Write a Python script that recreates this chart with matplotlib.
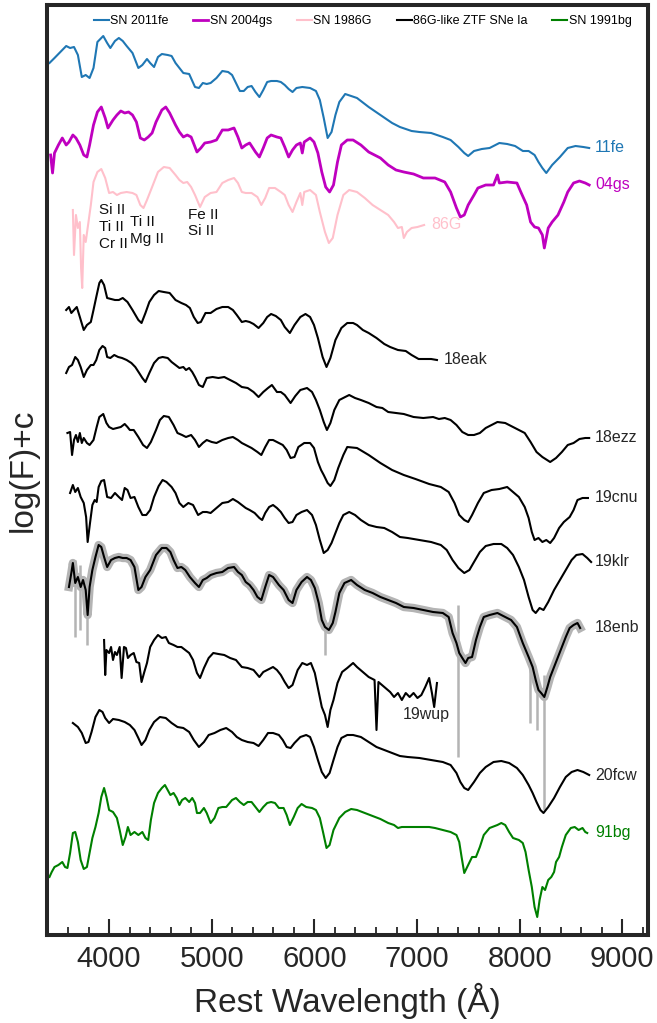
import numpy as np
import matplotlib.pyplot as plt
from matplotlib.ticker import MultipleLocator

plt.rcParams['font.family'] = ['Liberation Sans', 'DejaVu Sans']

# (rest wavelength [A], log flux + offset)
sn2011fe = [(3419, 8.87), (3468, 8.92), (3525, 8.98), (3582, 9.04), (3620, 9.02), (3658, 9.03), (3696, 8.95),
            (3734, 8.73), (3772, 8.75), (3810, 8.72), (3848, 8.82), (3886, 9.08), (3943, 9.14), (3981, 9.07),
            (4012, 9.02), (4057, 9.09), (4095, 9.12), (4133, 9.09), (4171, 9.04), (4228, 8.97), (4285, 8.82),
            (4324, 8.85), (4369, 8.91), (4400, 8.87), (4438, 8.83), (4476, 8.93), (4514, 8.96), (4571, 8.95),
            (4609, 8.94), (4647, 8.87), (4685, 8.82), (4723, 8.77), (4780, 8.76), (4837, 8.63), (4875, 8.62),
            (4913, 8.67), (4951, 8.66), (4989, 8.67), (5046, 8.72), (5103, 8.79), (5160, 8.78), (5198, 8.75),
            (5236, 8.67), (5274, 8.59), (5312, 8.59), (5350, 8.63), (5388, 8.64), (5426, 8.58), (5464, 8.53),
            (5502, 8.60), (5540, 8.68), (5578, 8.69), (5635, 8.69), (5673, 8.68), (5711, 8.65), (5749, 8.61),
            (5787, 8.58), (5825, 8.62), (5882, 8.63), (5958, 8.62), (6015, 8.59), (6053, 8.50), (6091, 8.32),
            (6129, 8.12), (6167, 8.18), (6205, 8.35), (6243, 8.48), (6300, 8.56), (6358, 8.54), (6415, 8.52),
            (6529, 8.43), (6643, 8.35), (6757, 8.27), (6833, 8.23), (6947, 8.19), (7023, 8.18), (7137, 8.17),
            (7251, 8.13), (7327, 8.10), (7403, 8.03), (7460, 7.97), (7498, 7.94), (7555, 7.99), (7631, 8.01),
            (7707, 8.02), (7802, 8.07), (7878, 8.06), (7955, 8.04), (8031, 7.99), (8087, 7.99), (8145, 7.95),
            (8183, 7.88), (8221, 7.82), (8259, 7.77), (8316, 7.85), (8392, 7.93), (8468, 8.02), (8544, 8.04),
            (8620, 8.03), (8677, 8.02)]

sn2004gs = [(3430, 7.95), (3449, 7.77), (3468, 7.97), (3506, 8.05), (3544, 8.12), (3582, 8.05), (3609, 8.08),
            (3647, 8.15), (3677, 8.12), (3715, 8.05), (3753, 7.95), (3784, 7.93), (3810, 8.05), (3848, 8.25),
            (3886, 8.38), (3924, 8.43), (3962, 8.32), (3989, 8.22), (4038, 8.30), (4076, 8.35), (4114, 8.39),
            (4152, 8.37), (4190, 8.38), (4228, 8.35), (4266, 8.28), (4304, 8.12), (4343, 8.10), (4381, 8.13),
            (4419, 8.17), (4457, 8.28), (4514, 8.40), (4552, 8.43), (4590, 8.37), (4647, 8.25), (4685, 8.18),
            (4723, 8.13), (4761, 8.15), (4799, 8.13), (4856, 7.98), (4894, 8.02), (4932, 8.07), (4989, 8.08),
            (5046, 8.10), (5103, 8.20), (5160, 8.20), (5217, 8.22), (5255, 8.13), (5293, 8.02), (5331, 8.05),
            (5369, 8.07), (5426, 7.98), (5464, 7.93), (5502, 8.02), (5540, 8.12), (5578, 8.15), (5635, 8.13),
            (5673, 8.12), (5711, 8.03), (5749, 7.93), (5787, 8.00), (5825, 8.05), (5863, 8.07), (5882, 7.97),
            (5901, 8.08), (5958, 8.12), (5996, 8.08), (6034, 7.97), (6072, 7.78), (6110, 7.63), (6148, 7.58),
            (6186, 7.65), (6225, 7.88), (6263, 8.05), (6320, 8.10), (6377, 8.10), (6453, 8.05), (6529, 7.98),
            (6643, 7.92), (6719, 7.85), (6795, 7.80), (6871, 7.78), (6966, 7.76), (7061, 7.72), (7175, 7.72),
            (7270, 7.68), (7327, 7.58), (7384, 7.42), (7422, 7.33), (7460, 7.35), (7498, 7.45), (7555, 7.55),
            (7593, 7.62), (7669, 7.65), (7745, 7.65), (7783, 7.75), (7802, 7.67), (7878, 7.68), (7973, 7.67),
            (8011, 7.58), (8068, 7.45), (8106, 7.28), (8145, 7.23), (8183, 7.22), (8221, 7.15), (8240, 7.02),
            (8278, 7.22), (8316, 7.28), (8373, 7.35), (8430, 7.48), (8468, 7.58), (8525, 7.67), (8582, 7.69),
            (8639, 7.67), (8677, 7.65)]

sn1986g = [(3647, 7.40), (3658, 6.95), (3677, 7.35), (3696, 7.22), (3715, 7.28), (3727, 6.82), (3738, 6.62),
           (3753, 7.15), (3772, 7.08), (3791, 7.22), (3822, 7.45), (3848, 7.68), (3886, 7.78), (3924, 7.81),
           (3962, 7.72), (4000, 7.57), (4038, 7.58), (4076, 7.55), (4114, 7.57), (4171, 7.58), (4228, 7.57),
           (4266, 7.55), (4304, 7.45), (4335, 7.42), (4369, 7.50), (4419, 7.63), (4476, 7.78), (4533, 7.83),
           (4590, 7.82), (4647, 7.75), (4685, 7.70), (4723, 7.67), (4761, 7.68), (4799, 7.63), (4837, 7.55),
           (4886, 7.43), (4932, 7.53), (4989, 7.57), (5046, 7.58), (5103, 7.67), (5160, 7.70), (5217, 7.72),
           (5255, 7.67), (5293, 7.58), (5331, 7.57), (5388, 7.57), (5445, 7.53), (5483, 7.45), (5521, 7.52),
           (5559, 7.62), (5616, 7.62), (5673, 7.58), (5711, 7.55), (5749, 7.45), (5787, 7.38), (5825, 7.48),
           (5863, 7.57), (5882, 7.45), (5901, 7.58), (5958, 7.60), (6015, 7.55), (6053, 7.38), (6103, 7.18),
           (6141, 7.07), (6179, 7.12), (6225, 7.35), (6282, 7.55), (6339, 7.60), (6415, 7.58), (6491, 7.52),
           (6567, 7.45), (6643, 7.40), (6719, 7.35), (6776, 7.28), (6814, 7.22), (6852, 7.23), (6871, 7.12),
           (6901, 7.18), (6947, 7.22), (7004, 7.23), (7069, 7.25)]

ztf18eak = [(3582, 6.40), (3609, 6.43), (3632, 6.37), (3658, 6.40), (3685, 6.43), (3715, 6.33), (3753, 6.20),
            (3784, 6.25), (3822, 6.28), (3848, 6.40), (3875, 6.53), (3905, 6.67), (3924, 6.70), (3951, 6.65),
            (3981, 6.52), (4019, 6.51), (4057, 6.50), (4095, 6.50), (4133, 6.52), (4179, 6.48), (4228, 6.40),
            (4285, 6.30), (4316, 6.27), (4354, 6.37), (4392, 6.48), (4438, 6.55), (4483, 6.59), (4533, 6.58),
            (4590, 6.57), (4647, 6.50), (4704, 6.47), (4749, 6.45), (4787, 6.42), (4825, 6.33), (4863, 6.27),
            (4894, 6.28), (4939, 6.37), (4989, 6.37), (5046, 6.41), (5103, 6.43), (5160, 6.43), (5206, 6.40),
            (5244, 6.35), (5293, 6.28), (5331, 6.29), (5369, 6.28), (5407, 6.26), (5456, 6.22), (5502, 6.27),
            (5540, 6.33), (5578, 6.36), (5624, 6.34), (5673, 6.30), (5711, 6.23), (5761, 6.17), (5806, 6.25),
            (5863, 6.33), (5913, 6.36), (5958, 6.33), (5996, 6.25), (6034, 6.12), (6080, 5.93), (6118, 5.83),
            (6156, 5.92), (6205, 6.10), (6263, 6.22), (6320, 6.27), (6377, 6.27), (6415, 6.25), (6472, 6.20),
            (6529, 6.17), (6605, 6.12), (6681, 6.06), (6738, 6.03), (6814, 6.00), (6890, 5.99), (6947, 5.95),
            (7015, 5.91), (7080, 5.91), (7137, 5.91), (7194, 5.90)]

ztf18ezz = [(3582, 5.77), (3609, 5.83), (3639, 5.85), (3670, 5.93), (3696, 5.90), (3723, 5.83), (3753, 5.73),
            (3784, 5.80), (3822, 5.85), (3848, 5.85), (3875, 5.90), (3905, 6.00), (3936, 6.04), (3962, 6.02),
            (3981, 5.93), (4012, 5.92), (4050, 5.95), (4088, 5.93), (4126, 5.92), (4171, 5.90), (4217, 5.87),
            (4255, 5.83), (4293, 5.77), (4324, 5.72), (4354, 5.68), (4392, 5.77), (4438, 5.87), (4483, 5.92),
            (4521, 5.93), (4571, 5.92), (4609, 5.88), (4647, 5.85), (4685, 5.82), (4723, 5.83), (4749, 5.80),
            (4780, 5.82), (4810, 5.78), (4837, 5.73), (4875, 5.65), (4913, 5.63), (4951, 5.72), (5008, 5.73),
            (5065, 5.72), (5122, 5.73), (5179, 5.70), (5236, 5.67), (5293, 5.63), (5350, 5.62), (5407, 5.58),
            (5456, 5.53), (5502, 5.58), (5548, 5.62), (5586, 5.65), (5635, 5.58), (5673, 5.58), (5711, 5.55),
            (5768, 5.47), (5814, 5.54), (5863, 5.60), (5928, 5.62), (5977, 5.58), (6015, 5.50), (6053, 5.40),
            (6091, 5.28), (6122, 5.20), (6156, 5.27), (6194, 5.40), (6243, 5.50), (6300, 5.53), (6339, 5.55),
            (6396, 5.52), (6453, 5.50), (6529, 5.47), (6605, 5.43), (6662, 5.42), (6719, 5.38), (6795, 5.37),
            (6871, 5.36), (6966, 5.33), (7061, 5.32), (7156, 5.33), (7213, 5.31), (7270, 5.32), (7327, 5.30),
            (7384, 5.25), (7441, 5.18), (7498, 5.15), (7555, 5.15), (7612, 5.17), (7669, 5.22), (7726, 5.25),
            (7783, 5.28), (7859, 5.27), (7935, 5.23), (7992, 5.20), (8049, 5.17), (8106, 5.08), (8164, 4.98),
            (8221, 4.93), (8297, 4.88), (8354, 4.92), (8411, 4.98), (8468, 5.05), (8525, 5.07), (8582, 5.11),
            (8639, 5.12), (8677, 5.12)]

ztf19cnu = [(3594, 5.17), (3620, 5.18), (3639, 4.95), (3658, 5.10), (3677, 5.15), (3696, 5.08), (3715, 5.17),
            (3734, 5.07), (3753, 5.12), (3784, 5.07), (3810, 5.05), (3848, 5.10), (3879, 5.23), (3905, 5.33),
            (3943, 5.36), (3974, 5.27), (4000, 5.23), (4038, 5.21), (4076, 5.22), (4114, 5.23), (4152, 5.26),
            (4179, 5.23), (4202, 5.20), (4240, 5.20), (4285, 5.13), (4331, 5.05), (4369, 5.02), (4407, 5.08),
            (4457, 5.20), (4495, 5.30), (4533, 5.34), (4582, 5.33), (4628, 5.25), (4666, 5.17), (4711, 5.15),
            (4749, 5.13), (4799, 5.15), (4837, 5.10), (4875, 5.03), (4913, 5.07), (4951, 5.10), (5000, 5.08),
            (5046, 5.07), (5103, 5.10), (5160, 5.12), (5206, 5.13), (5255, 5.10), (5293, 5.07), (5331, 5.05),
            (5388, 5.02), (5445, 4.98), (5483, 4.95), (5521, 5.03), (5559, 5.10), (5597, 5.10), (5654, 5.07),
            (5692, 5.05), (5730, 5.00), (5768, 4.92), (5806, 4.93), (5844, 5.03), (5901, 5.07), (5958, 5.07),
            (5996, 5.02), (6034, 4.88), (6065, 4.80), (6091, 4.75), (6129, 4.67), (6156, 4.64), (6194, 4.70),
            (6232, 4.82), (6282, 4.95), (6320, 5.03), (6415, 5.02), (6529, 4.95), (6643, 4.87), (6757, 4.80),
            (6871, 4.75), (6985, 4.71), (7118, 4.66), (7232, 4.63), (7308, 4.58), (7365, 4.47), (7411, 4.35),
            (7460, 4.30), (7498, 4.28), (7536, 4.35), (7593, 4.47), (7650, 4.57), (7726, 4.60), (7802, 4.61),
            (7878, 4.63), (7935, 4.58), (7992, 4.53), (8049, 4.43), (8087, 4.32), (8118, 4.18), (8145, 4.10),
            (8183, 4.12), (8221, 4.08), (8259, 4.10), (8297, 4.07), (8335, 4.12), (8384, 4.22), (8430, 4.28),
            (8487, 4.33), (8525, 4.40), (8563, 4.50), (8612, 4.52), (8665, 4.52)]

ztf19klr = [(3620, 4.57), (3647, 4.65), (3670, 4.58), (3696, 4.62), (3723, 4.53), (3753, 4.47), (3776, 4.33),
            (3791, 4.08), (3814, 4.27), (3837, 4.45), (3860, 4.50), (3879, 4.48), (3898, 4.63), (3924, 4.69),
            (3951, 4.70), (3981, 4.53), (4019, 4.52), (4057, 4.57), (4095, 4.53), (4126, 4.50), (4152, 4.62),
            (4179, 4.60), (4209, 4.52), (4247, 4.53), (4285, 4.43), (4324, 4.35), (4362, 4.35), (4400, 4.40),
            (4438, 4.53), (4483, 4.64), (4521, 4.70), (4559, 4.68), (4609, 4.63), (4647, 4.57), (4685, 4.47),
            (4723, 4.43), (4772, 4.47), (4818, 4.45), (4867, 4.35), (4913, 4.38), (4951, 4.38), (4989, 4.37),
            (5046, 4.42), (5103, 4.47), (5160, 4.48), (5206, 4.51), (5255, 4.48), (5293, 4.45), (5331, 4.42),
            (5369, 4.40), (5418, 4.37), (5464, 4.32), (5491, 4.30), (5521, 4.37), (5559, 4.43), (5597, 4.45),
            (5635, 4.42), (5673, 4.38), (5711, 4.32), (5749, 4.27), (5787, 4.28), (5825, 4.35), (5875, 4.38),
            (5928, 4.40), (5977, 4.35), (6015, 4.25), (6053, 4.10), (6091, 3.97), (6129, 4.00), (6167, 4.07),
            (6205, 4.17), (6243, 4.27), (6282, 4.35), (6339, 4.38), (6396, 4.35), (6453, 4.30), (6529, 4.25),
            (6605, 4.23), (6681, 4.22), (6757, 4.18), (6833, 4.13), (6909, 4.12), (7023, 4.10), (7137, 4.08),
            (7232, 4.05), (7289, 4.00), (7346, 3.90), (7403, 3.82), (7460, 3.77), (7510, 3.80), (7555, 3.88),
            (7612, 3.98), (7669, 4.04), (7745, 4.06), (7821, 4.06), (7878, 4.02), (7935, 3.95), (7992, 3.83),
            (8042, 3.70), (8087, 3.53), (8126, 3.40), (8156, 3.37), (8194, 3.42), (8232, 3.40), (8278, 3.48),
            (8335, 3.60), (8392, 3.70), (8449, 3.80), (8506, 3.90), (8552, 3.95), (8612, 3.96), (8658, 3.92),
            (8696, 3.88)]

ztf18enb = [(3609, 3.63), (3632, 3.77), (3647, 3.87), (3670, 3.67), (3696, 3.73), (3723, 3.63), (3746, 3.70),
            (3772, 3.60), (3791, 3.35), (3810, 3.63), (3837, 3.80), (3867, 3.93), (3898, 4.05), (3924, 4.03),
            (3951, 3.93), (3981, 3.83), (4019, 3.90), (4057, 3.92), (4095, 3.93), (4133, 3.92), (4171, 3.92),
            (4209, 3.90), (4247, 3.83), (4285, 3.60), (4316, 3.63), (4354, 3.73), (4400, 3.80), (4457, 3.95),
            (4514, 4.02), (4559, 4.02), (4597, 3.98), (4628, 3.90), (4666, 3.82), (4704, 3.83), (4742, 3.80),
            (4787, 3.73), (4837, 3.67), (4875, 3.63), (4913, 3.70), (4951, 3.72), (4989, 3.75), (5046, 3.77),
            (5103, 3.78), (5160, 3.82), (5217, 3.83), (5255, 3.78), (5293, 3.75), (5331, 3.68), (5369, 3.65),
            (5407, 3.60), (5445, 3.53), (5483, 3.50), (5521, 3.63), (5559, 3.75), (5597, 3.73), (5654, 3.65),
            (5700, 3.60), (5749, 3.50), (5787, 3.47), (5825, 3.60), (5875, 3.68), (5928, 3.73), (5966, 3.70),
            (6004, 3.62), (6042, 3.47), (6072, 3.30), (6103, 3.23), (6141, 3.20), (6179, 3.27), (6205, 3.38),
            (6243, 3.57), (6293, 3.67), (6358, 3.70), (6415, 3.65), (6491, 3.60), (6567, 3.57), (6643, 3.53),
            (6719, 3.50), (6795, 3.47), (6871, 3.43), (6966, 3.42), (7061, 3.40), (7156, 3.38), (7251, 3.37),
            (7308, 3.33), (7346, 3.17), (7384, 3.07), (7411, 2.97), (7441, 2.92), (7472, 2.87), (7498, 2.92),
            (7536, 2.93), (7574, 3.10), (7612, 3.23), (7650, 3.33), (7707, 3.35), (7783, 3.37), (7859, 3.33),
            (7916, 3.30), (7973, 3.23), (8030, 3.07), (8087, 2.93), (8126, 2.83), (8156, 2.70), (8183, 2.60),
            (8209, 2.57), (8240, 2.53), (8270, 2.63), (8297, 2.73), (8335, 2.83), (8373, 2.93), (8411, 3.03),
            (8449, 3.13), (8487, 3.22), (8525, 3.25), (8563, 3.27), (8589, 3.22)]

# unsmoothed 18enb: strongest single-pixel spikes (wavelength, low, high)
enb_spikes = [(3672, 3.13, 3.90), (3712, 3.20, 3.85), (3786, 3.05, 3.70), (6108, 2.95, 3.30),
              (7395, 1.93, 3.45), (8105, 2.27, 2.95), (8170, 2.20, 2.75), (8232, 1.40, 2.75)]

ztf19wup = [(3951, 3.10), (3962, 2.75), (3974, 3.00), (4000, 2.97), (4019, 3.03), (4038, 2.90), (4057, 2.98),
            (4076, 2.95), (4103, 3.03), (4122, 2.72), (4145, 3.03), (4164, 3.02), (4183, 2.92), (4209, 2.95),
            (4240, 2.97), (4266, 2.88), (4293, 2.87), (4316, 2.68), (4343, 2.78), (4369, 2.87), (4400, 3.03),
            (4438, 3.10), (4476, 3.15), (4514, 3.12), (4552, 3.13), (4582, 3.07), (4628, 3.05), (4666, 3.03),
            (4704, 3.03), (4742, 3.00), (4780, 2.97), (4818, 2.90), (4856, 2.77), (4886, 2.72), (4924, 2.82),
            (4970, 2.92), (5015, 2.97), (5065, 2.96), (5122, 2.95), (5179, 2.92), (5236, 2.90), (5293, 2.83),
            (5350, 2.82), (5407, 2.80), (5464, 2.73), (5502, 2.78), (5540, 2.80), (5597, 2.83), (5635, 2.80),
            (5673, 2.75), (5711, 2.68), (5749, 2.62), (5787, 2.65), (5837, 2.80), (5882, 2.87), (5928, 2.85),
            (5966, 2.87), (6004, 2.77), (6034, 2.62), (6072, 2.43), (6103, 2.35), (6129, 2.23), (6156, 2.40),
            (6186, 2.50), (6225, 2.67), (6270, 2.78), (6320, 2.82), (6377, 2.87), (6415, 2.83), (6472, 2.78),
            (6529, 2.73), (6586, 2.70), (6605, 2.20), (6624, 2.68), (6681, 2.63), (6738, 2.58), (6776, 2.53),
            (6814, 2.57), (6852, 2.50), (6890, 2.57), (6928, 2.53), (6966, 2.57), (7004, 2.52), (7042, 2.55),
            (7080, 2.63), (7118, 2.72), (7145, 2.57), (7167, 2.43), (7194, 2.67)]

ztf20fcw = [(3647, 2.27), (3696, 2.23), (3734, 2.17), (3772, 2.07), (3799, 2.08), (3829, 2.18), (3867, 2.33),
            (3905, 2.40), (3936, 2.38), (3962, 2.32), (4000, 2.27), (4038, 2.31), (4095, 2.30), (4152, 2.28),
            (4202, 2.25), (4247, 2.20), (4285, 2.12), (4316, 2.05), (4354, 2.10), (4392, 2.20), (4438, 2.28),
            (4495, 2.33), (4552, 2.32), (4609, 2.27), (4666, 2.23), (4723, 2.22), (4780, 2.18), (4825, 2.10),
            (4875, 2.03), (4924, 2.08), (4970, 2.15), (5027, 2.17), (5084, 2.20), (5141, 2.22), (5198, 2.18),
            (5244, 2.13), (5293, 2.10), (5350, 2.08), (5407, 2.07), (5456, 2.04), (5502, 2.10), (5548, 2.17),
            (5597, 2.17), (5654, 2.15), (5692, 2.10), (5730, 2.03), (5768, 2.02), (5806, 2.07), (5863, 2.13),
            (5920, 2.15), (5958, 2.13), (5996, 2.03), (6034, 1.90), (6072, 1.78), (6110, 1.72), (6148, 1.77),
            (6186, 1.90), (6225, 2.03), (6263, 2.12), (6320, 2.15), (6377, 2.15), (6453, 2.13), (6529, 2.08),
            (6605, 2.03), (6681, 2.00), (6757, 1.97), (6833, 1.94), (6909, 1.93), (7023, 1.92), (7137, 1.90),
            (7251, 1.88), (7327, 1.85), (7384, 1.77), (7422, 1.68), (7460, 1.62), (7498, 1.60), (7555, 1.68),
            (7612, 1.77), (7669, 1.83), (7745, 1.88), (7821, 1.89), (7897, 1.87), (7973, 1.82), (8030, 1.75),
            (8087, 1.65), (8126, 1.57), (8164, 1.48), (8202, 1.40), (8232, 1.37), (8278, 1.43), (8335, 1.52),
            (8392, 1.63), (8449, 1.73), (8506, 1.78), (8563, 1.80), (8620, 1.78), (8677, 1.75)]

sn1991bg = [(3419, 0.73), (3441, 0.78), (3468, 0.83), (3506, 0.85), (3544, 0.88), (3571, 0.83), (3594, 0.82),
            (3620, 0.97), (3647, 1.17), (3670, 1.18), (3696, 1.08), (3723, 0.90), (3753, 0.81), (3784, 0.83),
            (3810, 0.97), (3837, 1.12), (3867, 1.23), (3898, 1.37), (3924, 1.53), (3951, 1.62), (3974, 1.53),
            (4000, 1.40), (4038, 1.38), (4076, 1.32), (4103, 1.20), (4133, 1.05), (4160, 1.13), (4183, 1.23),
            (4209, 1.15), (4247, 1.18), (4285, 1.15), (4324, 1.18), (4354, 1.12), (4381, 1.10), (4407, 1.30),
            (4438, 1.47), (4476, 1.57), (4514, 1.62), (4544, 1.65), (4571, 1.60), (4597, 1.55), (4628, 1.57),
            (4658, 1.52), (4685, 1.45), (4711, 1.50), (4742, 1.52), (4780, 1.48), (4810, 1.52), (4837, 1.47),
            (4856, 1.37), (4886, 1.37), (4924, 1.42), (4951, 1.37), (4989, 1.27), (5027, 1.32), (5065, 1.42),
            (5103, 1.43), (5141, 1.43), (5198, 1.50), (5236, 1.52), (5274, 1.48), (5312, 1.45), (5350, 1.48),
            (5388, 1.48), (5426, 1.43), (5464, 1.38), (5502, 1.43), (5540, 1.47), (5578, 1.48), (5616, 1.47),
            (5654, 1.42), (5700, 1.42), (5730, 1.35), (5761, 1.25), (5799, 1.33), (5837, 1.42), (5875, 1.46),
            (5920, 1.43), (5977, 1.42), (6015, 1.40), (6053, 1.32), (6084, 1.18), (6118, 1.02), (6148, 1.05),
            (6186, 1.20), (6243, 1.32), (6300, 1.38), (6358, 1.41), (6415, 1.40), (6491, 1.37), (6567, 1.34),
            (6643, 1.31), (6719, 1.27), (6776, 1.25), (6814, 1.22), (6852, 1.23), (6928, 1.23), (7023, 1.23),
            (7118, 1.23), (7175, 1.22), (7251, 1.20), (7327, 1.18), (7384, 1.15), (7411, 1.08), (7434, 0.93),
            (7460, 0.77), (7498, 0.85), (7536, 0.93), (7574, 0.93), (7612, 1.03), (7650, 1.15), (7707, 1.22),
            (7783, 1.25), (7821, 1.27), (7859, 1.25), (7897, 1.18), (7935, 1.12), (7992, 1.10), (8030, 1.07),
            (8057, 0.98), (8087, 0.80), (8118, 0.63), (8145, 0.43), (8171, 0.33), (8194, 0.50), (8221, 0.63),
            (8247, 0.60), (8278, 0.70), (8308, 0.73), (8335, 0.78), (8354, 0.88), (8384, 0.93), (8411, 1.03),
            (8449, 1.15), (8498, 1.22), (8536, 1.23), (8574, 1.20), (8612, 1.22), (8639, 1.18), (8658, 1.17)]

ion_labels = ['Si II\nTi II\nCr II', 'Ti II\nMg II', 'Fe II\nSi II']
ion_wave = [3898, 4202, 4768]
ion_flux = [7.23, 7.195, 7.27]

spectra = [
    (sn2011fe, '11fe', '#1f77b4', 'SN 2011fe'),
    (sn2004gs, '04gs', 'm', 'SN 2004gs'),
    (sn1986g, '86G', 'pink', 'SN 1986G'),
    (ztf18eak, '18eak', 'k', '86G-like ZTF SNe Ia'),
    (ztf18ezz, '18ezz', 'k', None),
    (ztf19cnu, '19cnu', 'k', None),
    (ztf19klr, '19klr', 'k', None),
    (ztf18enb, '18enb', 'k', None),
    (ztf19wup, '19wup', 'k', None),
    (ztf20fcw, '20fcw', 'k', None),
    (sn1991bg, '91bg', 'green', 'SN 1991bg'),
]

fig = plt.figure(figsize=(6.57, 10.23), dpi=100)
ax = fig.add_axes([47 / 657, 88 / 1023, 601 / 657, 930 / 1023])

# raw 18enb spectrum sits behind the smoothed one
w, f = np.array(ztf18enb).T
ax.plot(w, f, color='#b4b4b4', lw=6, zorder=1)
sw, slo, shi = np.array(enb_spikes).T
ax.vlines(sw, slo, shi, color='#b4b4b4', lw=1.8, zorder=1)

handles = []
for spec, tag, col, lab in spectra:
    w, f = np.array(spec).T
    lw = 2.0 if tag == '04gs' else 1.5
    line, = ax.plot(w, f, color=col, lw=lw, zorder=2)
    if lab:
        line.set_label(lab)
        handles.append(line)
    tcol = '#262626' if col == 'k' else col
    if tag == '19wup':
        tx, ty = w[-1] - 330, f[-1] - 0.32
    elif w[-1] > 8500:
        tx, ty = 8735, f[-1]
    else:
        tx, ty = w[-1] + 70, f[-1]
    ax.text(tx, ty, tag, color=tcol, fontsize=11.5, ha='left', va='center')

for lab, x, y in zip(ion_labels, ion_wave, ion_flux):
    ax.text(x, y, lab, fontsize=11, color='#111111', ha='left', va='center', linespacing=1.25)

ax.set_xlim(3395, 9250)
ax.set_ylim(0.15, 9.45)
ax.set_yticks([])
ax.xaxis.set_major_locator(MultipleLocator(1000))
ax.xaxis.set_minor_locator(MultipleLocator(200))
ax.tick_params(axis='x', which='major', direction='in', length=11.5, width=1.5,
               labelsize=21, pad=7, color='#262626', labelcolor='#262626')
ax.tick_params(axis='x', which='minor', direction='in', length=5.8, width=1.3, color='#262626')
for s in ax.spines.values():
    s.set_linewidth(2.9)
    s.set_color('#262626')

ax.set_xlabel('Rest Wavelength (Å)', fontsize=24, color='#262626', labelpad=7)
ax.set_ylabel('log(F)+c', fontsize=24, color='#262626', labelpad=6)

fig.legend(handles=handles, loc='center', bbox_to_anchor=(0.552, 0.9795), ncol=5, frameon=False,
           fontsize=9, handlelength=1.2, handletextpad=0.1, columnspacing=2.0)

fig.savefig('out.png', dpi=100)
